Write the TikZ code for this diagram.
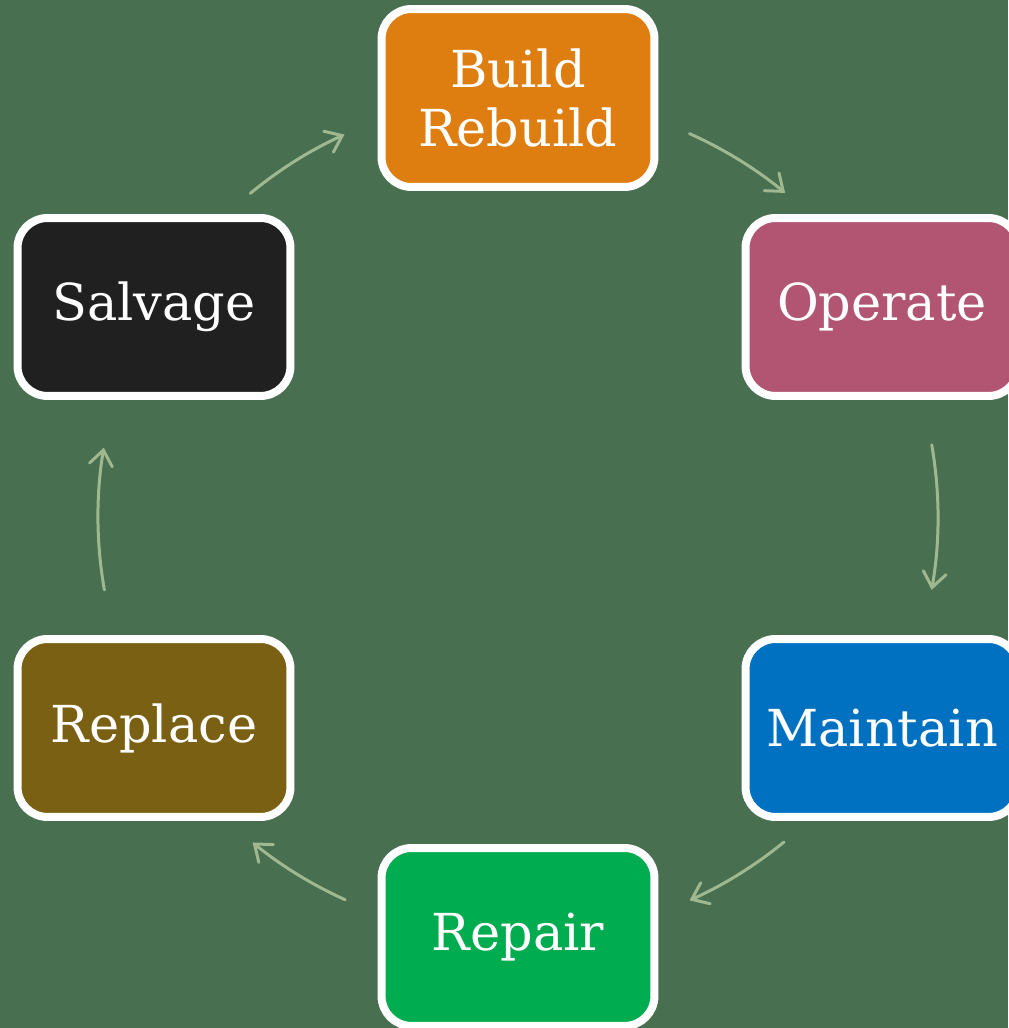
\documentclass[tikz,border=0pt]{standalone}
\usepackage{fontspec}
\setmainfont{DejaVu Serif}
\usetikzlibrary{arrows.meta,calc}
\definecolor{board}{RGB}{71,111,80}
\definecolor{sage}{RGB}{160,184,143}
\definecolor{buildorange}{RGB}{223,126,16}
\definecolor{operatepink}{RGB}{178,85,115}
\definecolor{maintainblue}{RGB}{0,112,192}
\definecolor{repairgreen}{RGB}{0,172,80}
\definecolor{replaceolive}{RGB}{122,96,18}
\definecolor{salvageblack}{RGB}{32,32,32}
\tikzset{
	stage/.style={draw=white, line width=0.16cm, rounded corners=0.6cm, minimum width=5.46cm, minimum height=3.56cm, text=white, align=center, font=\fontsize{29}{33.5}\selectfont},
	cyc/.style={draw=sage, line width=0.06cm, line cap=round, -{Straight Barb[length=0.3cm,width=0.46cm,line cap=round]}}
}
\begin{document}
\begin{tikzpicture}[x=0.02cm, y=0.02cm]
			\path[use as bounding box, fill=board] (0,0) rectangle (1008,1028);
			\coordinate (c) at (518,511);
			\node[stage, fill=buildorange] (build) at (518,930) {Build\\Rebuild};
			\node[stage, fill=operatepink] (operate) at (882,721) {Operate};
			\node[stage, fill=maintainblue] (maintain) at (882,300) {Maintain};
			\node[stage, fill=repairgreen] (repair) at (518,91) {Repair};
			\node[stage, fill=replaceolive] (replace) at (154,300) {Replace};
			\node[stage, fill=salvageblack] (salvage) at (154,721) {Salvage};
			\draw[cyc] ($(c)+(129.6:420)$) arc[start angle=129.6, end angle=114.4, radius=420];
			\draw[cyc] ($(c)+(65.9:420)$) arc[start angle=65.9, end angle=50.5, radius=420];
			\draw[cyc] ($(c)+(9.9:420)$) arc[start angle=9.9, end angle=-10, radius=420];
			\draw[cyc] ($(c)+(-50.7:420)$) arc[start angle=-50.7, end angle=-65.9, radius=420];
			\draw[cyc] ($(c)+(245.7:420)$) arc[start angle=245.7, end angle=230.8, radius=420];
			\draw[cyc] ($(c)+(190:420)$) arc[start angle=190, end angle=170.5, radius=420];
\end{tikzpicture}
\end{document}
